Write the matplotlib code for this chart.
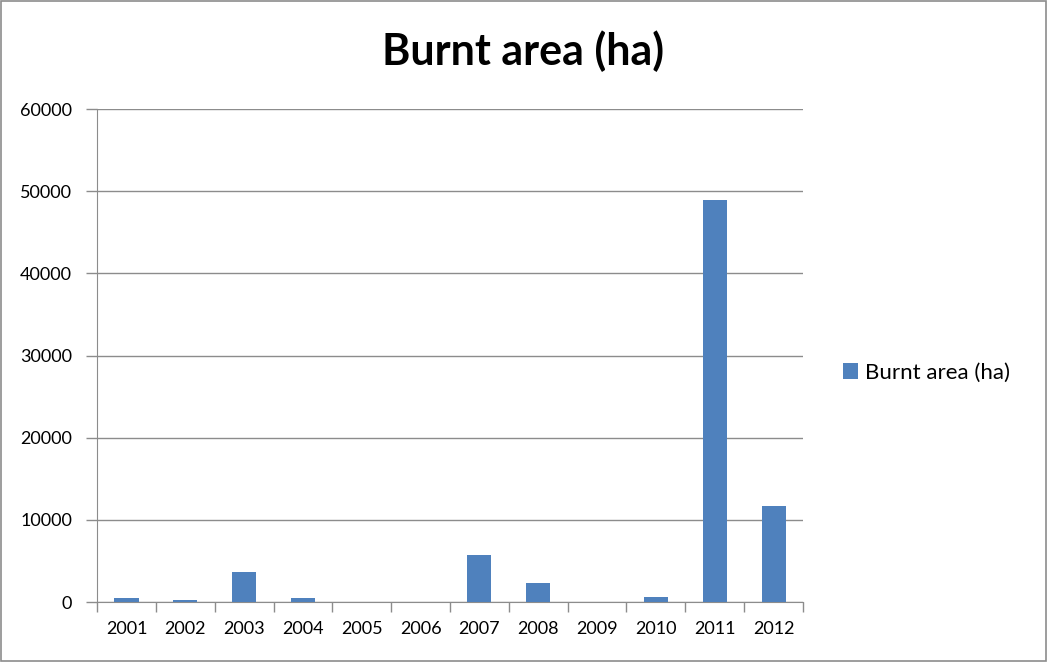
import numpy as np
import matplotlib.pyplot as plt
from matplotlib.patches import Rectangle

years = ['2001', '2002', '2003', '2004', '2005', '2006',
         '2007', '2008', '2009', '2010', '2011', '2012']
burnt_area = [500, 300, 3600, 500, 0, 0, 5700, 2300, 0, 650, 48900, 11700]

plt.rcParams['font.family'] = ['Lato', 'DejaVu Sans']

fig = plt.figure(figsize=(10.48, 6.62), dpi=100)
ax = fig.add_axes([0.0926, 0.0906, 0.6736, 0.7447])

x = np.arange(len(years))
ax.bar(x, burnt_area, width=0.41, color='#4f81bd', label='Burnt area (ha)', zorder=3)

ax.set_xlim(-0.5, len(years) - 0.5)
ax.set_ylim(0, 60000)
ax.set_yticks(np.arange(0, 60001, 10000))
ax.grid(axis='y', color='#8c8c8c', linewidth=1, zorder=0)

ax.set_xticks(x)
ax.set_xticklabels(years, fontsize=13)
ax.set_xticks(np.arange(-0.5, len(years), 1), minor=True)
ax.tick_params(axis='x', which='major', length=0, pad=14)
ax.tick_params(axis='x', which='minor', length=7, color='#8c8c8c', width=1)
ax.tick_params(axis='y', length=8, color='#8c8c8c', width=1, labelsize=13, pad=10)

for side in ['top', 'right']:
    ax.spines[side].set_visible(False)
for side in ['left', 'bottom']:
    ax.spines[side].set_color('#8c8c8c')

fig.text(0.499, 0.922, 'Burnt area (ha)', ha='center', va='center',
         fontsize=31, fontweight='bold')

fig.legend(loc='center left', bbox_to_anchor=(0.785, 0.437), frameon=False,
           fontsize=16, handlelength=0.7, handleheight=0.7, handletextpad=0.3)

fig.patches.append(Rectangle((0.001, 0.002), 0.997, 0.996, transform=fig.transFigure,
                             fill=False, edgecolor='#8c8c8c', linewidth=1.2))

plt.savefig('out.png', dpi=100)
